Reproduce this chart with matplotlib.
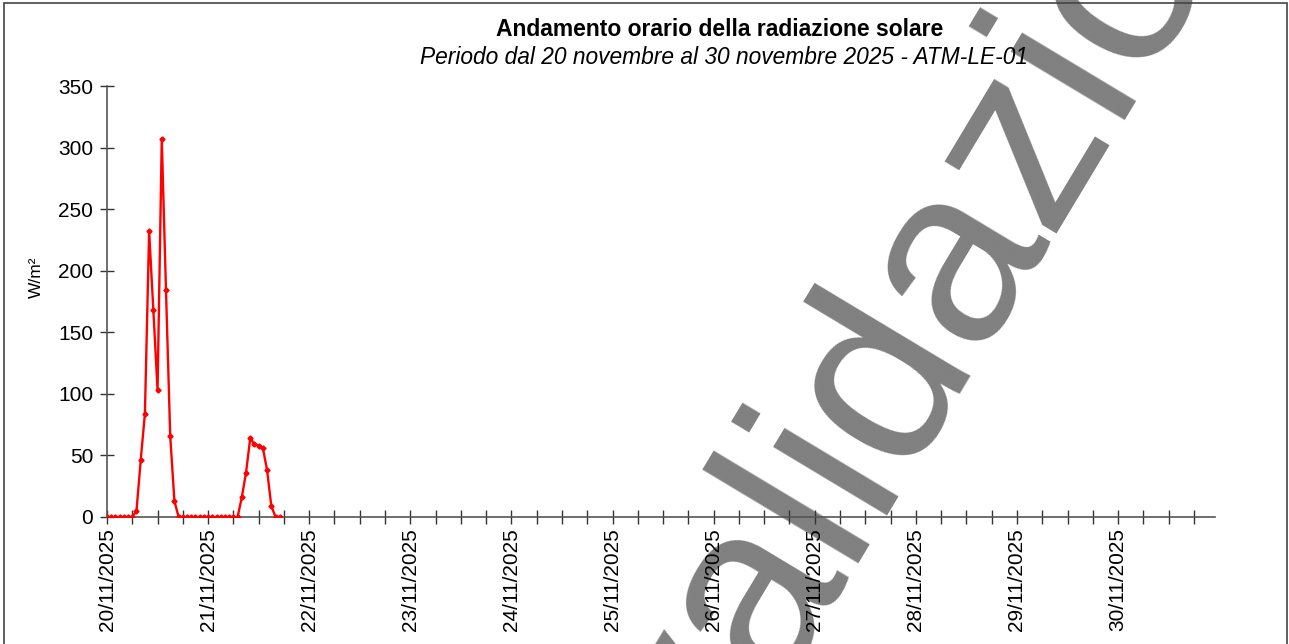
import numpy as np
import matplotlib.pyplot as plt
from matplotlib.patches import Rectangle

plt.rcParams['font.family'] = ['Liberation Sans', 'DejaVu Sans']

# hourly solar radiation (W/m2), from 20/11/2025 00:00
rad_20 = [0, 0, 0, 0, 0, 0, 0, 5, 46, 84, 232, 168, 103, 307, 184, 66, 13, 0,
          0, 0, 0, 0, 0, 0]
rad_21 = [0, 0, 0, 0, 0, 0, 0, 0, 16, 36, 64, 59, 58, 56, 38, 9, 0, 0]
days = ['20/11/2025', '21/11/2025', '22/11/2025', '23/11/2025', '24/11/2025',
        '25/11/2025', '26/11/2025', '27/11/2025', '28/11/2025', '29/11/2025',
        '30/11/2025']

values = np.array(rad_20 + rad_21)
hours = np.arange(len(values))
n_hours = len(days) * 24

fig = plt.figure(figsize=(12.89, 6.44), dpi=100)
ax = fig.add_axes([107 / 1289, 1 - 517 / 644, (1215 - 107) / 1289, (517 - 86) / 644])
ax.patch.set_alpha(0)

# watermark
fig.text(713 / 1289, 1 - 804 / 644, 'validazione', fontsize=181, color='#808080',
         rotation=59, rotation_mode='anchor', ha='left', va='baseline', zorder=-5)

ax.plot(hours, values, color='#ff0000', lw=1.7, marker='D', ms=2.6, zorder=3)

ax.set_xlim(0, n_hours - 1)
ax.set_ylim(0, 350)
ax.set_yticks(np.arange(0, 351, 50))
ax.set_xticks(np.arange(0, n_hours, 24))
ax.set_xticklabels(days, rotation=90)
ax.set_xticks(np.arange(0, n_hours, 6), minor=True)

for s in ['top', 'right']:
    ax.spines[s].set_visible(False)
for s in ['left', 'bottom']:
    ax.spines[s].set_color('#555555')
    ax.spines[s].set_linewidth(1.2)
ax.tick_params(which='both', direction='inout', length=10, width=1, color='#333333')
ax.tick_params(axis='y', labelsize=15, pad=5)
ax.tick_params(axis='x', labelsize=15, pad=3)

fig.text(36 / 1289, 1 - 277 / 644, 'W/m²', rotation=90, fontsize=12.5,
         ha='center', va='center')
fig.text(720 / 1289, 1 - 30 / 644, 'Andamento orario della radiazione solare',
         fontsize=16.5, fontweight='bold', ha='center', va='center')
fig.text(724 / 1289, 1 - 57 / 644,
         'Periodo dal 20 novembre al 30 novembre 2025 - ATM-LE-01',
         fontsize=16.4, style='italic', ha='center', va='center')

# frame around the chart
fig.patches.append(Rectangle((4 / 1289, -0.05), 1283 / 1289, 1.05 - 3 / 644,
                             transform=fig.transFigure, fill=False,
                             edgecolor='#444444', lw=1.2))

fig.savefig('out.png', dpi=100)
